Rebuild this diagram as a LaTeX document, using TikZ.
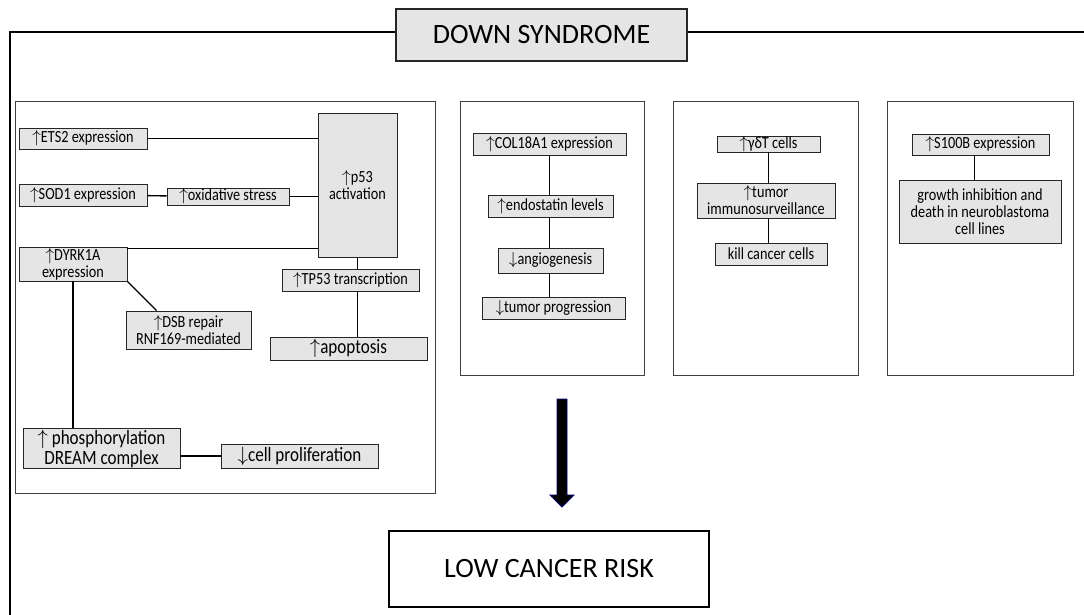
\documentclass[tikz,border=0pt]{standalone}
\usepackage{fontspec}
\setmainfont{Carlito}
\newfontfamily\narrowfont{Carlito}[FakeStretch=0.84]
\usepackage{tikz}
\usetikzlibrary{arrows.meta,positioning}
\newcommand{\upar}{$\uparrow$}
\newcommand{\dnar}{$\downarrow$}

\begin{document}
\begin{tikzpicture}[x=1pt, y=-1pt,
    box/.style={draw=black!85, fill=gray!20, line width=0.9pt, inner sep=1pt, align=center,
        font=\narrowfont\fontsize{17}{17}\selectfont},
    bigbox/.style={box, font=\narrowfont\fontsize{20.3}{20}\selectfont},
    panel/.style={draw=black!75, line width=0.9pt},
    link/.style={draw=black, line width=1.4pt},
    frame/.style={draw=black, line width=1.8pt}]
    \useasboundingbox (0,0) rectangle (1084,615);

    % Title and outer frame
    \node[box, line width=1.4pt, minimum width=291pt, minimum height=52pt,
        font=\fontsize{28}{30}\selectfont] (ds) at (541.5,35) {DOWN SYNDROME};
    \draw[frame] (10,615) -- (10,32) -- (ds.west |- 0,32);
    \draw[frame] (ds.east |- 0,32) -- (1084,32);

    % Panels
    \draw[panel] (15,101) rectangle (435,493);
    \draw[panel] (460,101) rectangle (644,375);
    \draw[panel] (673,101) rectangle (858,375);
    \draw[panel] (887,101) rectangle (1073,375);

    % p53 panel
    \node[box, minimum width=128pt, minimum height=21pt] (ets) at (83,138.5) {\upar ETS2 expression};
    \node[box, minimum width=128pt, minimum height=22pt] (sod) at (83,195) {\upar SOD1 expression};
    \node[box, minimum width=122pt, minimum height=17pt, inner sep=0pt] (ox) at (228,196.5) {\upar oxidative stress};
    \node[box, minimum width=79pt, minimum height=144pt] (p53) at (357.5,185) {\upar p53\\activation};
    \node[box, minimum width=108pt, minimum height=34pt] (dyrk) at (73,264) {\upar DYRK1A\\expression};
    \node[box, minimum width=137pt, minimum height=22pt] (tp53) at (350.5,280) {\upar TP53 transcription};
    \node[box, minimum width=125pt, minimum height=38pt] (dsb) at (188.5,330) {\upar DSB repair\\RNF169-mediated};
    \node[bigbox, minimum width=157pt, minimum height=23pt] (apop) at (348.5,348.5) {\upar apoptosis};
    \node[bigbox, minimum width=157pt, minimum height=39pt] (phos) at (101.5,448.5) {\upar{} phosphorylation\\DREAM complex};
    \node[bigbox, minimum width=157pt, minimum height=24pt] (prolif) at (299.5,456) {\dnar cell proliferation};

    \draw[link] (ets.east) -- (ets.east -| p53.west);
    \draw[link] (sod) -- (ox);
    \draw[link] (ox.east) -- (ox.east -| p53.west);
    \draw[link] ([yshift=-2pt]dyrk.north east) -- ([yshift=-2pt]dyrk.north east -| p53.west);
    \draw[link] (p53.south) -- (p53.south |- tp53.north);
    \draw[link] (p53.south |- tp53.south) -- (p53.south |- apop.north);
    \draw[link] (dyrk.south east) -- ([xshift=31pt]dsb.north west);
    \draw[link] (dyrk.south) -- (dyrk.south |- phos.north);
    \draw[link] (prolif.west -| phos.east) -- (prolif.west);

    % Endostatin panel
    \node[box, minimum width=153pt, minimum height=22pt] (col) at (549.5,144) {\upar COL18A1 expression};
    \node[box, minimum width=125pt, minimum height=22pt] (endo) at (550.5,206) {\upar endostatin levels};
    \node[box, minimum width=105pt, minimum height=25pt] (angio) at (550.5,260.5) {\dnar angiogenesis};
    \node[box, minimum width=143pt, minimum height=22pt] (tumprog) at (553.5,308) {\dnar tumor progression};
    \draw[link] (col.south) -- (col.south |- endo.north);
    \draw[link] (col.south |- endo.south) -- (col.south |- angio.north);
    \draw[link] (col.south |- angio.south) -- (col.south |- tumprog.north);

    % Immune panel
    \node[box, minimum width=103pt, minimum height=16pt, inner sep=0pt] (gd) at (768.5,144) {\upar γδT cells};
    \node[box, minimum width=138pt, minimum height=35pt] (immuno) at (766,200.5) {\upar tumor\\immunosurveillance};
    \node[box, minimum width=112pt, minimum height=22pt] (kill) at (771,254) {kill cancer cells};
    \draw[link] (gd.south) -- (gd.south |- immuno.north);
    \draw[link] (gd.south |- immuno.south) -- (gd.south |- kill.north);

    % S100B panel
    \node[box, minimum width=137pt, minimum height=21pt] (s100) at (980.5,144.5) {\upar S100B expression};
    \node[box, minimum width=162pt, minimum height=63pt] (growth) at (980,211.5) {growth inhibition and\\death in neuroblastoma\\cell lines};
    \draw[link] ([xshift=-6pt]s100.south) -- ([xshift=-6pt]s100.south |- growth.north);

    % Outcome
    \node[draw=black, line width=1.4pt, minimum width=320pt, minimum height=76pt,
        font=\fontsize{28}{30}\selectfont] (risk) at (549,569) {LOW CANCER RISK};
    \coordinate (arrtop) at (562,399);
    \filldraw[fill=black, draw=blue!45!black, line width=0.8pt]
        (arrtop) ++(-5,0) -- ++(10,0) -- ++(0,96) -- ++(7,0) -- ++(-12,12)
        -- ++(-12,-12) -- ++(7,0) -- cycle;
\end{tikzpicture}
\end{document}
